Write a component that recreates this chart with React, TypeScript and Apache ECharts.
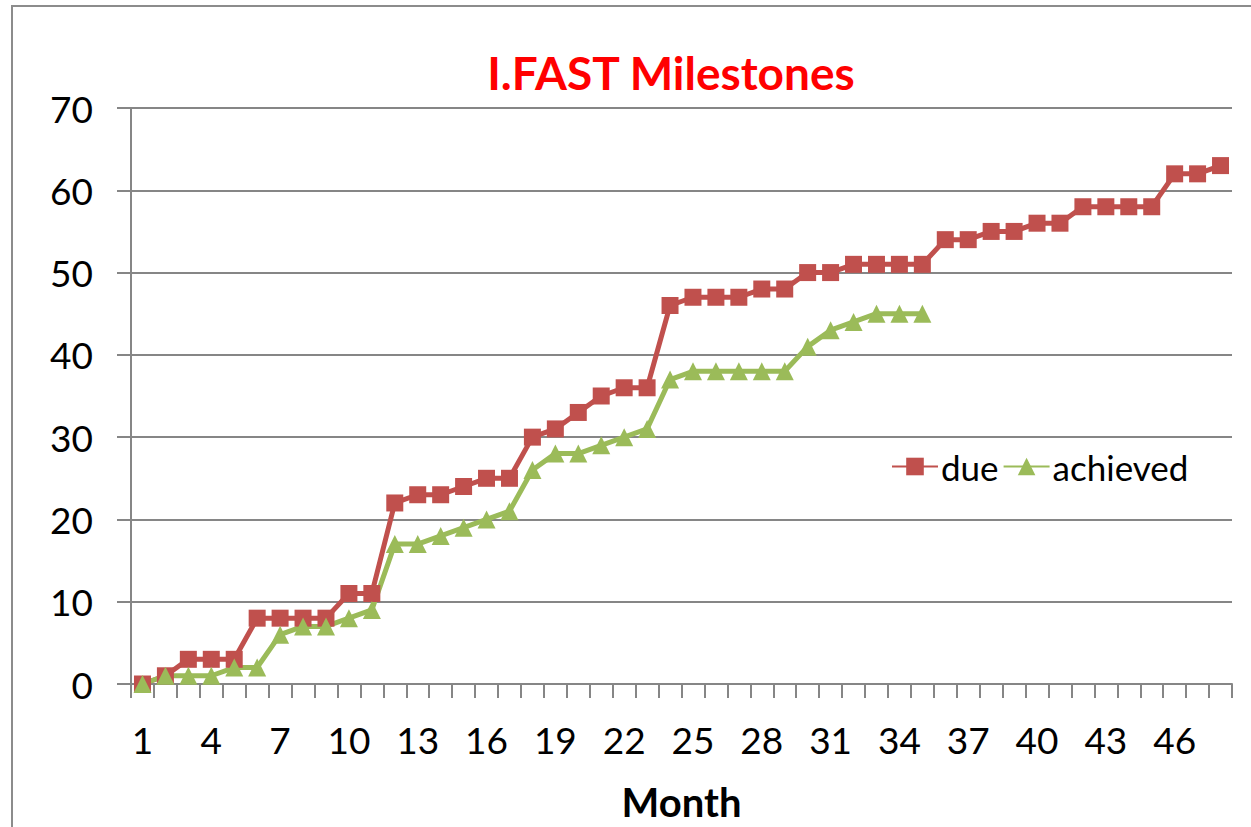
import React, { useEffect, useRef } from "react";
import * as echarts from "echarts";

const months: string[] = Array.from({ length: 48 }, (_, i) => String(i + 1));
const dueValues: number[] = [
  0, 1, 3, 3, 3, 8, 8, 8, 8, 11, 11, 22, 23, 23, 24, 25, 25, 30, 31, 33, 35, 36, 36, 46,
  47, 47, 47, 48, 48, 50, 50, 51, 51, 51, 51, 54, 54, 55, 55, 56, 56, 58, 58, 58, 58, 62, 62, 63,
];
const achievedValues: number[] = [
  0, 1, 1, 1, 2, 2, 6, 7, 7, 8, 9, 17, 17, 18, 19, 20, 21, 26, 28, 28, 29, 30, 31, 37,
  38, 38, 38, 38, 38, 41, 43, 44, 45, 45, 45,
];
const titleText = "I.FAST Milestones";
const xAxisName = "Month";

const FONT = "Lato, 'Open Sans', sans-serif";

export default function App() {
  const ref = useRef<HTMLDivElement>(null);
  useEffect(() => {
    if (!ref.current) return;
    const chart = echarts.init(ref.current, null, { renderer: "svg" });
    chart.setOption({
      animation: false,
      backgroundColor: "#ffffff",
      title: {
        text: titleText,
        left: 666,
        textAlign: "center",
        top: 44,
        textStyle: { color: "#ff0000", fontSize: 46, fontWeight: "bold", fontFamily: FONT },
      },
      graphic: [
        {
          type: "rect",
          shape: { x: 12, y: 6, width: 1400, height: 1000 },
          style: { fill: "none", stroke: "#8c8c8c", lineWidth: 2 },
          silent: true,
        },
      ],
      legend: {
        left: 886,
        top: 444,
        itemWidth: 46,
        itemHeight: 22,
        itemGap: 4,
        textStyle: { fontSize: 35, color: "#000", fontFamily: FONT, padding: [0, 0, 0, -2] },
        data: ["due", "achieved"],
      },
      grid: { left: 131, right: 19, top: 108, bottom: 143, containLabel: false },
      xAxis: {
        type: "category",
        data: months,
        boundaryGap: true,
        name: xAxisName,
        nameLocation: "middle",
        nameGap: 98,
        nameTextStyle: { fontSize: 40, fontWeight: "bold", color: "#000", fontFamily: FONT },
        axisLine: { lineStyle: { color: "#868686", width: 2 } },
        axisTick: { show: true, interval: 0, length: 14, lineStyle: { color: "#868686", width: 2 } },
        axisLabel: { interval: 2, fontSize: 37, color: "#000", margin: 37, fontFamily: FONT },
        splitLine: { show: false },
      },
      yAxis: {
        type: "value",
        min: 0,
        max: 70,
        interval: 10,
        axisLine: { show: true, lineStyle: { color: "#868686", width: 2 } },
        axisTick: { show: true, length: 14, lineStyle: { color: "#868686", width: 2 } },
        axisLabel: { fontSize: 37, color: "#000", margin: 38, fontFamily: FONT },
        splitLine: { show: true, lineStyle: { color: "#868686", width: 2 } },
      },
      series: [
        {
          name: "due",
          type: "line",
          data: dueValues,
          symbol: "rect",
          symbolSize: 17,
          showAllSymbol: true,
          itemStyle: { color: "#C0504D" },
          lineStyle: { color: "#C0504D", width: 5 },
        },
        {
          name: "achieved",
          type: "line",
          data: achievedValues,
          symbol: "triangle",
          symbolSize: 18,
          showAllSymbol: true,
          itemStyle: { color: "#9BBB59" },
          lineStyle: { color: "#9BBB59", width: 5 },
        },
      ],
    });
    return () => chart.dispose();
  }, []);
  return (
    <div
      ref={ref}
      style={{ position: "fixed", left: 0, top: 0, width: 1251, height: 827, background: "#fff" }}
    />
  );
}
